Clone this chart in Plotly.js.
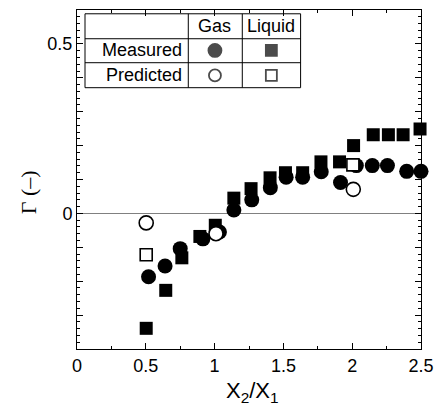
<!DOCTYPE html>
<html>
<head>
<meta charset="utf-8">
<script src="https://cdn.plot.ly/plotly-3.0.1.min.js"></script>
<style>html,body{margin:0;padding:0;background:#fff;}#chart{width:441px;height:407px;}</style>
</head>
<body>
<div id="chart"></div>
<script>
// Measured gas (filled circles)
var gasMeasX = [0.52, 0.64, 0.75, 0.915, 1.035, 1.14, 1.27, 1.405, 1.52, 1.64, 1.775, 1.915, 2.03, 2.146, 2.256, 2.396, 2.5];
var gasMeasY = [-0.187, -0.155, -0.104, -0.075, -0.055, 0.01, 0.04, 0.076, 0.107, 0.107, 0.123, 0.091, 0.141, 0.141, 0.141, 0.124, 0.124];
// Measured liquid (filled squares)
var liqMeasX = [0.503, 0.645, 0.762, 0.893, 1.005, 1.14, 1.265, 1.403, 1.515, 1.64, 1.773, 1.908, 2.01, 2.153, 2.263, 2.37, 2.493];
var liqMeasY = [-0.339, -0.227, -0.131, -0.068, -0.035, 0.045, 0.073, 0.105, 0.12, 0.12, 0.152, 0.152, 0.2, 0.232, 0.232, 0.232, 0.249];
// Predicted gas (open circles)
var gasPredX = [0.503, 1.01, 2.008];
var gasPredY = [-0.028, -0.06, 0.071];
// Predicted liquid (open squares)
var liqPredX = [0.503, 2.005];
var liqPredY = [-0.122, 0.143];

// Tick labels
var xTickVals = [0, 0.5, 1, 1.5, 2, 2.5];
var xTickText = ['0', '0.5', '1', '1.5', '2', '2.5'];
var yTickVals = [-0.4, -0.3, -0.2, -0.1, 0, 0.1, 0.2, 0.3, 0.4, 0.5, 0.6];
var yTickText = ['', '', '', '', '0', '', '', '', '', '0.5', ''];

// Table legend text
var tableCols = ['Gas', 'Liquid'];
var tableRows = ['Measured', 'Predicted'];

var FONT = 'Liberation Sans, Arial, sans-serif';

// Table geometry (paper coords)
var tX0 = 0.0233, tX1 = 0.650, tY0 = 0.7708, tY1 = 0.9888;
var colDiv = [0.3235, 0.4805];
var rowDiv = [0.9152, 0.8445];
var colCenters = [0.401, 0.565];
var rowCenters = [0.8807, 0.807];
var headerY = 0.952;

var traces = [
  {x: liqMeasX, y: liqMeasY, type: 'scatter', mode: 'markers', cliponaxis: false,
   marker: {symbol: 'square', size: 13, color: '#000', line: {width: 0}}},
  {x: gasMeasX, y: gasMeasY, type: 'scatter', mode: 'markers', cliponaxis: false,
   marker: {symbol: 'circle', size: 15, color: '#000', line: {width: 0}}},
  {x: gasPredX, y: gasPredY, type: 'scatter', mode: 'markers', cliponaxis: false,
   marker: {symbol: 'circle', size: 14, color: '#fff', line: {width: 1.6, color: '#000'}}},
  {x: liqPredX, y: liqPredY, type: 'scatter', mode: 'markers', cliponaxis: false,
   marker: {symbol: 'square', size: 12, color: '#fff', line: {width: 1.6, color: '#000'}}},
  // table legend symbols
  {x: [colCenters[0], colCenters[1], colCenters[0], colCenters[1]],
   y: [rowCenters[0], rowCenters[0], rowCenters[1], rowCenters[1]],
   xaxis: 'x2', yaxis: 'y2', type: 'scatter', mode: 'markers', hoverinfo: 'skip',
   marker: {symbol: ['circle', 'square', 'circle', 'square'], size: [13, 11, 12, 11],
            color: ['#000', '#000', '#fff', '#fff'], line: {width: 1.8, color: '#000'}}}
];

var annotations = [];
tableCols.forEach(function (t, i) {
  annotations.push({xref: 'paper', yref: 'paper', x: colCenters[i], y: headerY, text: t, showarrow: false,
    xanchor: 'center', yanchor: 'middle', font: {family: FONT, size: 18, color: '#000'}});
});
tableRows.forEach(function (t, i) {
  annotations.push({xref: 'paper', yref: 'paper', x: 0.310, y: rowCenters[i], text: t, showarrow: false,
    xanchor: 'right', yanchor: 'middle', font: {family: FONT, size: 18, color: '#000'}});
});
annotations.push({xref: 'paper', yref: 'paper', x: -0.1424, y: 0.4624, text: 'Γ (–)', showarrow: false,
  textangle: -90, xanchor: 'center', yanchor: 'middle', font: {family: 'Liberation Serif, Times New Roman, serif', size: 22, color: '#000'}});
annotations.push({xref: 'paper', yref: 'paper', x: 0.5116, y: -0.128, text: 'X<sub>2</sub>/X<sub>1</sub>', showarrow: false,
  xanchor: 'center', yanchor: 'middle', font: {family: FONT, size: 22, color: '#000'}});

var shapes = [
  {type: 'rect', xref: 'paper', yref: 'paper', x0: tX0, x1: tX1, y0: tY0, y1: tY1, line: {color: '#000', width: 1}, fillcolor: 'rgba(0,0,0,0)', layer: 'above'}
];
rowDiv.forEach(function (y) {
  shapes.push({type: 'line', xref: 'paper', yref: 'paper', x0: tX0, x1: tX1, y0: y, y1: y, line: {color: '#000', width: 1}});
});
colDiv.forEach(function (x) {
  shapes.push({type: 'line', xref: 'paper', yref: 'paper', x0: x, x1: x, y0: tY0, y1: tY1, line: {color: '#000', width: 1}});
});

var layout = {
  width: 441, height: 407,
  margin: {l: 77, r: 20, t: 10, b: 58},
  paper_bgcolor: '#fff', plot_bgcolor: '#fff',
  showlegend: false,
  font: {family: FONT, size: 18, color: '#000'},
  xaxis: {
    range: [0, 2.5], tickmode: 'array', tickvals: xTickVals, ticktext: xTickText,
    ticks: 'inside', ticklen: 6, tickwidth: 1, tickcolor: '#000',
    minor: {dtick: 0.25, tick0: 0, ticks: 'inside', ticklen: 3, tickcolor: '#000', showgrid: false},
    showline: true, linecolor: '#000', linewidth: 1, mirror: 'ticks',
    showgrid: false, zeroline: false,
    tickfont: {family: FONT, size: 18, color: '#000'}
  },
  yaxis: {
    range: [-0.4, 0.6], tickmode: 'array', tickvals: yTickVals, ticktext: yTickText,
    ticks: 'inside', ticklen: 6, tickwidth: 1, tickcolor: '#000',
    minor: {dtick: 0.02, tick0: 0, ticks: 'inside', ticklen: 3, tickcolor: '#000', showgrid: false},
    showline: true, linecolor: '#000', linewidth: 1, mirror: 'ticks',
    showgrid: false, zeroline: true, zerolinecolor: '#808080', zerolinewidth: 1.5,
    tickfont: {family: FONT, size: 18, color: '#000'}
  },
  xaxis2: {overlaying: 'x', range: [0, 1], visible: false, fixedrange: true},
  yaxis2: {overlaying: 'y', range: [0, 1], visible: false, fixedrange: true},
  annotations: annotations,
  shapes: shapes
};

Plotly.newPlot('chart', traces, layout, {displayModeBar: false, staticPlot: true});
</script>
</body>
</html>
